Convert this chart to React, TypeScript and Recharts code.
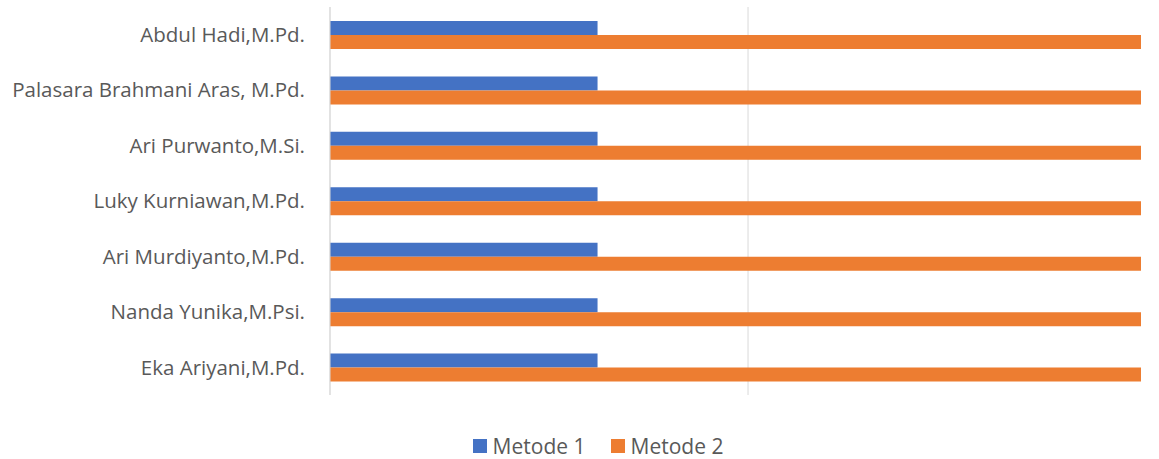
import React from 'react';
import { BarChart, Bar, XAxis, YAxis, CartesianGrid, Legend } from 'recharts';

const lecturers = [
  'Abdul Hadi,M.Pd.',
  'Palasara Brahmani Aras, M.Pd.',
  'Ari Purwanto,M.Si.',
  'Luky Kurniawan,M.Pd.',
  'Ari Murdiyanto,M.Pd.',
  'Nanda Yunika,M.Psi.',
  'Eka Ariyani,M.Pd.',
];
const metode1 = [32, 32, 32, 32, 32, 32, 32];
const metode2 = [97, 97, 97, 97, 97, 97, 97];
const xTicks = [0, 50];

const FONT = '"Open Sans", sans-serif';
const TEXT = '#595959';
const BLUE = '#4472C4';
const ORANGE = '#ED7D31';

const data = lecturers.map((name, i) => ({ name, m1: metode1[i], m2: metode2[i] }));

const legendItems = [
  { label: 'Metode 1', color: BLUE },
  { label: 'Metode 2', color: ORANGE },
];

function LegendBox() {
  return (
    <div style={{ display: 'flex', justifyContent: 'center', alignItems: 'center', height: 24, paddingLeft: 55, fontFamily: FONT, fontSize: 21, color: TEXT }}>
      {legendItems.map((it, i) => (
        <div key={it.label} style={{ display: 'flex', alignItems: 'center', marginLeft: i ? 25 : 0 }}>
          <span style={{ width: 14, height: 14, background: it.color, display: 'inline-block', marginRight: 6 }} />
          <span>{it.label}</span>
        </div>
      ))}
    </div>
  );
}

// value ticks are kept for the grid only, no labels on the value axis
const NoTick = () => <g />;

export default function App() {
  return (
    <div style={{ position: 'absolute', top: 0, left: 0, width: 1159, height: 459, background: '#fff' }}>
      <BarChart
        width={1159}
        height={459}
        data={data}
        layout="vertical"
        margin={{ top: 7, right: 18, bottom: 1, left: 0 }}
        barGap={0}
      >
        <CartesianGrid horizontal={false} stroke="#d9d9d9" verticalValues={xTicks} />
        <XAxis type="number" domain={[0, 97]} ticks={xTicks} tick={NoTick} axisLine={false} tickLine={false} height={39} allowDataOverflow />
        <YAxis
          type="category"
          dataKey="name"
          width={330}
          tickLine={false}
          tickSize={0}
          tickMargin={25}
          axisLine={{ stroke: '#d9d9d9' }}
          tick={{ fill: TEXT, fontSize: 20.5, fontFamily: FONT }}
          interval={0}
        />
        <Legend verticalAlign="bottom" align="center" content={() => <LegendBox />} />
        <Bar dataKey="m1" name="Metode 1" fill={BLUE} barSize={14} isAnimationActive={false} />
        <Bar dataKey="m2" name="Metode 2" fill={ORANGE} barSize={14} isAnimationActive={false} />
      </BarChart>
    </div>
  );
}
